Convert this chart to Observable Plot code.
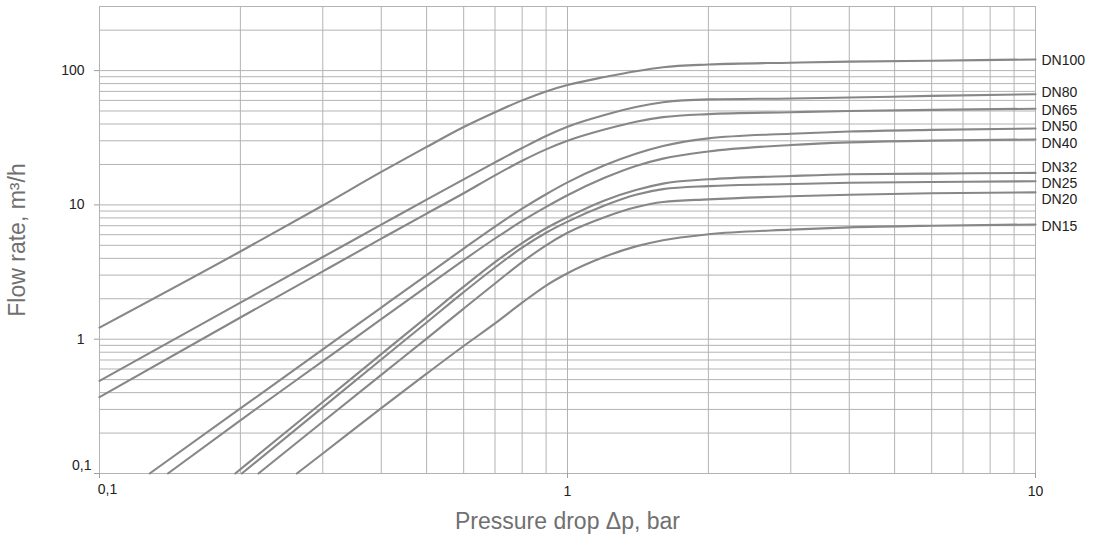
<!DOCTYPE html>
<html>
<head>
<meta charset="utf-8">
<script src="https://cdn.jsdelivr.net/npm/d3@7"></script>
<script src="https://cdn.jsdelivr.net/npm/@observablehq/plot@0.6"></script>
<style>
  body { margin: 0; background: #fff; }
  svg { display: block; }
</style>
</head>
<body>
<div id="chart"></div>
<script>
// ---- Data (pressure drop Δp in bar, flow rate in m³/h) ----
const seriesNames = ["DN100", "DN80", "DN65", "DN50", "DN40", "DN32", "DN25", "DN20", "DN15"];

const dn100 = [[0.1,1.22],[0.2,4.5],[0.3,9.9],[0.4,17.6],[0.5,27],[0.6,38],[0.7,49],[0.8,60],[0.9,70],[1,78],[1.2,89.5],[1.4,99],[1.6,106],[2,111],[3,114.5],[4,116.5],[6,118.5],[10,121]];
const dn80  = [[0.1,0.49],[0.2,1.87],[0.3,4.09],[0.4,7.12],[0.5,10.95],[0.6,15.5],[0.7,20.7],[0.8,26.5],[0.9,32.6],[1,38.2],[1.2,46.7],[1.4,53.6],[1.6,58.1],[2,61],[3,62],[4,63],[6,64.8],[10,66.7]];
const dn65  = [[0.1,0.37],[0.2,1.45],[0.3,3.2],[0.4,5.6],[0.5,8.62],[0.6,12.2],[0.7,16.6],[0.8,21.3],[0.9,25.9],[1,30],[1.2,36.4],[1.4,41.6],[1.6,45],[2,47.4],[3,49],[4,50],[6,51],[10,52]];
const dn50  = [[0.128,0.1],[0.2,0.305],[0.3,0.84],[0.4,1.72],[0.5,3.0],[0.6,4.73],[0.7,6.9],[0.8,9.38],[0.9,12],[1,14.7],[1.2,19.7],[1.4,24],[1.6,27.4],[2,31.3],[3,33.9],[4,35.2],[6,36.2],[10,37]];
const dn40  = [[0.14,0.1],[0.2,0.249],[0.3,0.686],[0.4,1.41],[0.5,2.46],[0.6,3.88],[0.7,5.62],[0.8,7.59],[0.9,9.66],[1,11.8],[1.2,15.9],[1.4,19.5],[1.6,22.1],[2,25],[3,27.9],[4,29.2],[6,30.1],[10,30.7]];
const dn32  = [[0.195,0.1],[0.3,0.341],[0.4,0.774],[0.5,1.46],[0.6,2.46],[0.7,3.75],[0.8,5.2],[0.9,6.7],[1,8.1],[1.2,10.8],[1.4,12.9],[1.6,14.4],[2,15.5],[3,16.4],[4,16.9],[6,17.1],[10,17.3]];
const dn25  = [[0.2014,0.1],[0.3,0.311],[0.4,0.706],[0.5,1.33],[0.6,2.24],[0.7,3.42],[0.8,4.8],[0.9,6.2],[1,7.5],[1.2,9.9],[1.4,11.9],[1.6,13.1],[2,13.8],[3,14.3],[4,14.6],[6,14.8],[10,15]];
const dn20  = [[0.2186,0.1],[0.3,0.243],[0.4,0.543],[0.5,1.01],[0.6,1.69],[0.7,2.6],[0.8,3.75],[0.9,5.0],[1,6.2],[1.2,8.1],[1.4,9.6],[1.6,10.5],[2,11.0],[3,11.6],[4,11.9],[6,12.2],[10,12.4]];
const dn15  = [[0.264,0.1],[0.3,0.141],[0.4,0.307],[0.5,0.554],[0.6,0.89],[0.7,1.31],[0.8,1.87],[0.9,2.51],[1,3.1],[1.2,4.11],[1.4,4.91],[1.6,5.46],[2,6.04],[3,6.54],[4,6.8],[6,7.0],[10,7.15]];

const seriesPoints = [dn100, dn80, dn65, dn50, dn40, dn32, dn25, dn20, dn15];

// flow value at which each end label sits
const labelFlow = [119.7, 68.2, 50.7, 38.1, 28.6, 19.0, 14.4, 11.0, 6.86];

const xTicks = [0.1, 1, 10];
const yTicks = [0.1, 1, 10, 100];
const xGrid = [0.1,0.2,0.3,0.4,0.5,0.6,0.7,0.8,0.9,1,2,3,4,5,6,7,8,9,10];
const yGrid = [0.1,0.2,0.3,0.4,0.5,0.6,0.7,0.8,0.9,1,2,3,4,5,6,7,8,9,10,20,30,40,50,60,70,80,90,100,200,300];

const xTitle = "Pressure drop Δp, bar";
const yTitle = "Flow rate, m³/h";

// ---- Build tables ----
const rows = seriesNames.flatMap((name, i) => seriesPoints[i].map(([dp, q]) => ({name, dp, q})));
const labels = seriesNames.map((name, i) => ({name, dp: 10, q: labelFlow[i]}));
const fmt = d => String(d).replace(".", ",");
const font = "'Liberation Sans', Arial, Helvetica, sans-serif";

const chart = Plot.plot({
  width: 1096,
  height: 542,
  marginLeft: 99,
  marginRight: 61,
  marginTop: 6,
  marginBottom: 69,
  style: {fontFamily: font, background: "#fff", fontSize: "14px"},
  x: {type: "log", domain: [0.1, 10], axis: null},
  y: {type: "log", domain: [0.1, 300], axis: null},
  marks: [
    Plot.ruleX(xGrid, {x: d => d, stroke: "#b3b3b3", strokeWidth: 1}),
    Plot.ruleY(yGrid, {y: d => d, stroke: "#b3b3b3", strokeWidth: 1}),
    Plot.line(rows, {x: "dp", y: "q", z: "name", stroke: "#878787", strokeWidth: 2.1, curve: "monotone-x"}),
    Plot.axisX(xTicks, {tickSize: 5, tickPadding: 8, stroke: "#a0a0a0", fill: "#222", fontSize: 14,
      tickFormat: d => d === 0.1 ? "" : fmt(d), label: null}),
    Plot.axisY(yTicks, {tickSize: 5, tickPadding: 10, stroke: "#a0a0a0", fill: "#222", fontSize: 14,
      tickFormat: d => d === 0.1 ? "" : fmt(d), label: null}),
    Plot.text([xTicks[0]], {x: d => d, frameAnchor: "bottom", dy: 20, dx: 8, text: fmt, fill: "#222", fontSize: 14}),
    Plot.text([yTicks[0]], {y: d => d, frameAnchor: "left", dx: -8, dy: -8, textAnchor: "end", text: fmt, fill: "#222", fontSize: 14}),
    Plot.text(labels, {x: "dp", y: "q", text: "name", textAnchor: "start", dx: 6, fill: "#222", fontSize: 14}),
    Plot.text([yTitle], {frameAnchor: "left", dx: -82, rotate: -90, textAnchor: "middle", lineAnchor: "middle", text: d => d, fill: "#707070", fontSize: 23}),
    Plot.text([xTitle], {frameAnchor: "bottom", dy: 48, textAnchor: "middle", lineAnchor: "middle", text: d => d, fill: "#707070", fontSize: 23})
  ]
});
document.getElementById("chart").appendChild(chart);
</script>
</body>
</html>
